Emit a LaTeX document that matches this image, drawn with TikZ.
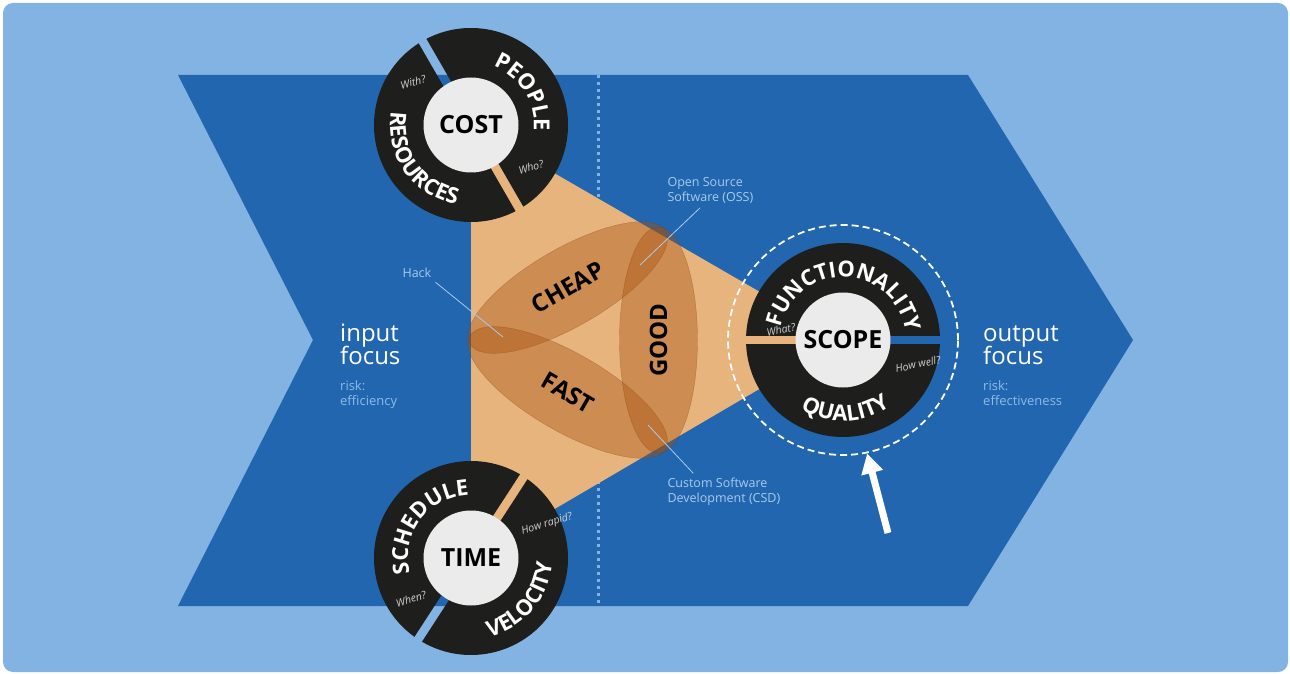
\documentclass[tikz,border=0pt]{standalone}
\usepackage{fontspec}
\setmainfont{Open Sans}
\usetikzlibrary{arrows.meta,shapes.geometric,decorations.text,positioning}

\definecolor{paleblue}{HTML}{82B3E3}
\definecolor{deepblue}{HTML}{2166AE}
\definecolor{sand}{HTML}{E8B47E}
\definecolor{lensbrown}{HTML}{A5500F}
\definecolor{ringblack}{HTML}{1E1E1C}
\definecolor{hubgrey}{HTML}{EBEBEB}
\definecolor{notegrey}{HTML}{D2D2D2}
\definecolor{noteblue}{HTML}{A9CBEE}
\definecolor{riskblue}{HTML}{8DBBE8}

\newcommand\ringfont{\bfseries\fontsize{22}{22}\selectfont}

% black disc in two halves, split along the given angle
\newcommand\splitring[2]{%
  \foreach \s in {1,-1}{
    \begin{scope}[shift={(#1)},rotate=#2]
      \clip (-100,\s*4.5) rectangle (100,\s*100);
      \fill[ringblack] (0,0) circle (97);
    \end{scope}}}

% white word bent round a ring
\newcommand\ringlabel[5]{%
  \path[decorate,decoration={text along path,text align=center,
        text={|\ringfont\color{white}|#5}}]
    ([shift={(#2:#4)}]#1) arc[start angle=#2,end angle=#3,radius=#4];}

\tikzset{
  hub/.style={circle,fill=hubgrey,minimum size=95pt,inner sep=0pt,
              font=\bfseries\fontsize{25}{25}\selectfont},
  lens/.style={ellipse,fill=lensbrown,fill opacity=0.4,draw=lensbrown!70!black,
               draw opacity=0.35,minimum width=226pt,minimum height=78pt,inner sep=0pt},
  lenslabel/.style={font=\bfseries\fontsize{24}{24}\selectfont},
  question/.style={text=notegrey,font=\itshape\fontsize{10.5}{10.5}\selectfont,inner sep=1pt},
  note/.style={text=noteblue,font=\fontsize{12.5}{15}\selectfont,align=left},
  callout/.style={noteblue,line width=0.8pt,shorten <=1pt},
  bigword/.style={text=white,font=\fontsize{24}{24}\selectfont,anchor=base west,inner sep=0pt},
  riskword/.style={text=riskblue,font=\fontsize{13}{13}\selectfont,anchor=base west,inner sep=0pt},
  bigarrow/.style={white,line width=7pt,-{Triangle[length=20pt,width=21pt]}}
}

\begin{document}
\begin{tikzpicture}[x=1pt,y=1pt]
  \useasboundingbox (0,0) rectangle (1290,673);

  \coordinate (costc)  at (471,548);
  \coordinate (timec)  at (471,115);
  \coordinate (scopec) at (843,333);

  % backdrop and the big chevron
  \fill[white] (0,0) rectangle (1290,673);
  \fill[paleblue,rounded corners=10pt] (3,1) rectangle (1288,670);
  \fill[deepblue] (178,598) -- (968,598) -- (1133,333) -- (968,67)
                  -- (178,67) -- (313,333) -- cycle;
  \draw[paleblue,line width=3pt,dash pattern=on 3pt off 4pt] (598,598) -- (598,67);

  \fill[sand] (costc) -- (scopec) -- (timec) -- cycle;

  % the three lenses
  \node[lens,rotate=30]  (cheaplens) at (567.75,385.5) {};
  \node[lens,rotate=-30] (fastlens)  at (567.75,280.5) {};
  \node[lens,rotate=90]  (goodlens)  at (658.5,333)   {};
  \node[lenslabel,rotate=30]  (cheap) at (cheaplens) {CHEAP};
  \node[lenslabel,rotate=-30] (fast)  at (fastlens)  {FAST};
  \node[lenslabel,rotate=90]  (good)  at (goodlens)  {GOOD};

  \node[note,anchor=base west] (hack) at (399,395) {Hack};
  \node[note,anchor=north west] (oss) at (664,499) {Open Source\\Software (OSS)};
  \node[note,anchor=north west] (csd) at (664,199) {Custom Software\\Development (CSD)};
  \coordinate (hackend) at (503,336);
  \coordinate (ossend)  at (640,408);
  \coordinate (csdend)  at (648,248);
  \draw[callout] (hack.south east) -- (hackend);
  \draw[callout] (oss.-120) -- (ossend);
  \draw[callout] (csd.150) -- (csdend);

  % cost
  \splitring{costc}{120}
  \node[hub] (cost) at (costc) {COST};
  \ringlabel{costc}{112}{-48}{63}{PEOPLE}
  \ringlabel{costc}{125}{305}{81}{RESOURCES}
  \node[question,rotate=15] (with) at (413,591) {With?};
  \node[question,rotate=15] (who)  at (531,506) {Who?};

  % time
  \splitring{timec}{57}
  \node[hub] (time) at (timec) {TIME};
  \ringlabel{timec}{223}{63}{63}{SCHEDULE}
  \ringlabel{timec}{-120}{40}{81}{VELOCITY}
  \node[question,rotate=17] (when)  at (411,74)  {When?};
  \node[question,rotate=17] (rapid) at (547,149) {How rapid?};

  % scope
  \splitring{scopec}{0}
  \node[hub] (scope) at (scopec) {SCOPE};
  \ringlabel{scopec}{178}{-2}{63}{FUNCTIONALITY}
  \ringlabel{scopec}{-168}{-8}{81}{QUALITY}
  \node[question,rotate=12] (what) at (781,343) {What?};
  \node[question,rotate=12] (well) at (918,309) {How well?};

  \node[circle,draw=white,line width=1.8pt,dash pattern=on 7pt off 4pt,
        minimum size=230pt,inner sep=0pt] (focusring) at (scopec) {};
  \coordinate (arrowtail) at (888,140);
  \draw[bigarrow] (arrowtail) -- (focusring.-78);

  % side texts
  \node[bigword]  (inword)   at (340,332) {input};
  \node[bigword]  (infocus)  at (340,309) {focus};
  \node[riskword] (inrisk)   at (340,283) {risk:};
  \node[riskword] (ineff)    at (340,268) {efficiency};
  \node[bigword]  (outword)  at (983,332) {output};
  \node[bigword]  (outfocus) at (983,309) {focus};
  \node[riskword] (outrisk)  at (983,283) {risk:};
  \node[riskword] (outeff)   at (983,268) {effectiveness};

\end{tikzpicture}
\end{document}
